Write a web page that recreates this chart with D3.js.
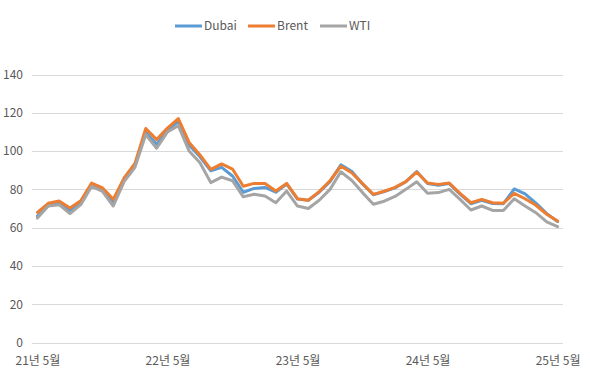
<!DOCTYPE html>
<html>
<head>
<meta charset="utf-8">
<script src="https://cdn.jsdelivr.net/npm/d3@7"></script>
<style>
  body { margin: 0; background: #fff; }
  svg text { font-family: "Noto Sans CJK KR", "Noto Sans", sans-serif; fill: #595959; }
</style>
</head>
<body>
<svg id="chart" width="590" height="380"></svg>
<script>
// monthly, 21년 5월 .. 25년 5월 (49 months)
var months = d3.range(49);
var tickLabels = ["21년 5월", "22년 5월", "23년 5월", "24년 5월", "25년 5월"];
var tickIdx = [0, 12, 24, 36, 48];
var yTicks = [0, 20, 40, 60, 80, 100, 120, 140];

var dubai = [66, 71.5, 73, 69, 73, 82.3, 80, 73.5, 84.8, 92.5,
  109.8, 103.5, 111, 115.5, 103, 97, 89.7, 91.5, 87, 78.5,
  80.5, 81, 78.5, 82.8, 74.9, 74.3, 78.5, 84, 92.8, 89.5,
  82.8, 77.2, 78.8, 80.8, 84, 89.3, 83, 82.2, 83, 77.5,
  72.5, 74.3, 72.6, 72.5, 80.2, 77.6, 72.8, 67.3, 63.2];
var brent = [68, 72.7, 73.9, 70.2, 74, 83.3, 80.8, 74.8, 86, 93.5,
  111.8, 106, 112, 117, 104.5, 98, 90.4, 93.3, 90.6, 81.6,
  83.1, 83.1, 79.1, 83.1, 75.1, 74.3, 78.8, 84.5, 92.1, 88.7,
  83, 77.4, 79, 81, 84, 89, 83.3, 82.6, 83.3, 77.9,
  73, 74.8, 73, 72.8, 77.9, 75.1, 71.7, 67, 63.5];
var wti = [65, 71.3, 72, 67.4, 72, 81.5, 79, 71.3, 84, 91.5,
  108.6, 101.5, 110, 113.3, 100, 93.9, 83.5, 86.4, 84.5, 76.1,
  77.4, 76.5, 73, 79.1, 71.3, 70, 74.3, 80, 89.2, 84.7,
  78.3, 72.2, 73.8, 76.3, 80, 84, 78, 78.3, 80, 74.8,
  69.2, 71.3, 69, 69, 75.1, 71.3, 67.8, 63, 60.5];

var seriesNames = ["Dubai", "Brent", "WTI"];
var seriesColors = ["#5B9BD5", "#ED7D31", "#A5A5A5"];
var seriesData = [dubai, brent, wti];

var svg = d3.select("#chart");

var x = d3.scalePoint()
    .domain(months)
    .range([32, 563])
    .padding(0.5);

var y = d3.scaleLinear()
    .domain([0, 140])
    .range([342.5, 74.5]);

// gridlines
svg.append("g")
    .selectAll("line")
    .data(yTicks)
    .enter().append("line")
    .attr("x1", 32)
    .attr("x2", 563)
    .attr("y1", function(d) { return Math.round(y(d)) + 0.5; })
    .attr("y2", function(d) { return Math.round(y(d)) + 0.5; })
    .attr("stroke", "#d9d9d9")
    .attr("stroke-width", 1);

// y axis labels
var yAxis = svg.append("g")
    .attr("transform", "translate(23,0)")
    .call(d3.axisLeft(y).tickValues(yTicks).tickSize(0).tickPadding(0));
yAxis.select(".domain").remove();
yAxis.selectAll("text")
    .attr("font-size", 12)
    .attr("font-family", null);

// x axis labels
var xAxis = svg.append("g")
    .attr("transform", "translate(0,356)")
    .call(d3.axisBottom(x).tickValues(tickIdx).tickSize(0).tickPadding(0)
        .tickFormat(function(d, i) { return tickLabels[i]; }));
xAxis.select(".domain").remove();
xAxis.selectAll("text")
    .attr("font-size", 12)
    .attr("font-family", null);

var line = d3.line()
    .x(function(d, i) { return x(i); })
    .y(function(d) { return y(d); });

svg.append("g")
    .selectAll("path")
    .data(seriesData)
    .enter().append("path")
    .attr("d", line)
    .attr("fill", "none")
    .attr("stroke", function(d, i) { return seriesColors[i]; })
    .attr("stroke-width", 3)
    .attr("stroke-linejoin", "round")
    .attr("stroke-linecap", "round");

// legend
var legendX = [175, 248, 320];
var legend = svg.append("g")
    .selectAll("g")
    .data(seriesNames)
    .enter().append("g")
    .attr("transform", function(d, i) { return "translate(" + legendX[i] + ",26)"; });

legend.append("line")
    .attr("x1", 0)
    .attr("x2", 27)
    .attr("stroke", function(d, i) { return seriesColors[i]; })
    .attr("stroke-width", 3);

legend.append("text")
    .attr("x", 29)
    .attr("dy", "0.35em")
    .attr("font-size", 12)
    .text(function(d) { return d; });
</script>
</body>
</html>
